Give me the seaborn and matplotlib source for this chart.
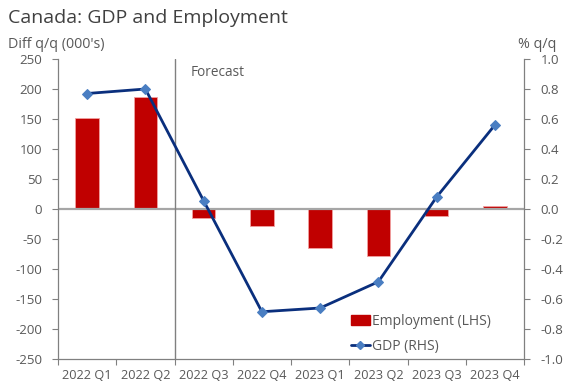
import matplotlib
matplotlib.use("Agg")
import matplotlib.pyplot as plt
from matplotlib.lines import Line2D
from matplotlib.patches import Patch
import seaborn as sns
import pandas as pd
import numpy as np

quarters = ["2022 Q1", "2022 Q2", "2022 Q3", "2022 Q4",
            "2023 Q1", "2023 Q2", "2023 Q3", "2023 Q4"]
employment = [152, 187, -15, -29, -65, -78, -11, 5]
gdp = [0.77, 0.80, 0.055, -0.685, -0.66, -0.485, 0.08, 0.56]
gdp_ticks = [-1.0, -0.8, -0.6, -0.4, -0.2, 0.0, 0.2, 0.4, 0.6, 0.8, 1.0]

sns.set_theme(style="white")
plt.rcParams['font.family'] = ['Open Sans', 'DejaVu Sans']
plt.rcParams['axes.unicode_minus'] = False

RED = "#C00000"
NAVY = "#0A2F7D"
LBLUE = "#4A7EC2"
TXT = "#595959"
GRID = "#A6A6A6"

df = pd.DataFrame({"q": quarters, "emp": employment, "gdp": gdp,
                   "i": np.arange(len(quarters))})

fig = plt.figure(figsize=(5.65, 3.84), dpi=100)
ax = fig.add_axes([58/565, 1-359/384, (524-58)/565, 300/384])

sns.barplot(data=df, x="q", y="emp", ax=ax, color=RED, width=0.4,
            edgecolor="#F2A0A0", linewidth=0.6, saturation=1)
ax.set_xlim(-0.5, len(quarters)-0.5)
ax.set_ylim(-250, 250)
ax.set_yticks(np.arange(-250, 251, 50))
ax.set_xlabel("")
ax.set_ylabel("")

ax.axhline(0, color=GRID, lw=1.6, zorder=1)
ax.axvline(1.5, color="#808080", lw=1.0, zorder=1)
ax.text(1.78, 227, "Forecast", va="center", ha="left", fontsize=9.8, color=TXT)

# x ticks at category boundaries, labels at centres
ax.set_xticks(np.arange(-0.5, len(quarters), 1.0))
ax.set_xticklabels([])
ax.set_xticks(np.arange(len(quarters)), minor=True)
ax.set_xticklabels(quarters, minor=True)
ax.tick_params(axis="x", which="major", direction="out", length=4, width=0.8,
               color="#808080", bottom=True)
ax.tick_params(axis="x", which="minor", length=0, pad=7, labelsize=9.2,
               labelcolor=TXT)
ax.tick_params(axis="y", direction="out", length=4.5, width=0.8, color="#808080",
               left=True, pad=7, labelsize=9.5, labelcolor=TXT)

for s in ["top", "right"]:
    ax.spines[s].set_visible(False)
for s in ["left", "bottom"]:
    ax.spines[s].set_color("#808080")
    ax.spines[s].set_linewidth(0.9)

ax2 = ax.twinx()
sns.lineplot(data=df, x="i", y="gdp", ax=ax2, color=NAVY, lw=2.0,
             marker="D", markersize=5, markerfacecolor=LBLUE,
             markeredgecolor=LBLUE, zorder=5)
ax2.set_ylim(-1.0, 1.0)
ax2.set_yticks(gdp_ticks)
ax2.set_yticklabels([f"{v:.1f}" for v in gdp_ticks])
ax2.set_xlabel("")
ax2.set_ylabel("")
ax2.tick_params(axis="y", direction="out", length=4, width=0.8, color="#808080",
                right=True, pad=8, labelsize=9.5, labelcolor=TXT)
for s in ["top", "left", "bottom"]:
    ax2.spines[s].set_visible(False)
ax2.spines["right"].set_color("#808080")
ax2.spines["right"].set_linewidth(0.9)
ax2.set_xlim(-0.5, len(quarters)-0.5)

fig.text(8/565, 1-18/384, "Canada: GDP and Employment", fontsize=14,
         color="#404040", va="center", ha="left")
fig.text(8/565, 1-44/384, "Diff q/q (000's)", fontsize=10.3, color=TXT,
         va="center", ha="left")
fig.text(556/565, 1-44/384, "% q/q", fontsize=10.3, color=TXT,
         va="center", ha="right")

handles = [Patch(facecolor=RED, edgecolor=RED),
           Line2D([0], [0], color=NAVY, lw=2, marker="D", markersize=4.5,
                  markerfacecolor=LBLUE, markeredgecolor=LBLUE)]
leg = fig.legend(handles, ["Employment (LHS)", "GDP (RHS)"],
                 loc="upper left", bbox_to_anchor=(345/565, 1-308/384),
                 frameon=False, fontsize=10, handlelength=1.4,
                 handletextpad=0.15, labelspacing=0.75, borderaxespad=0)
for t in leg.get_texts():
    t.set_color(TXT)

fig.savefig("out.png", dpi=100)
